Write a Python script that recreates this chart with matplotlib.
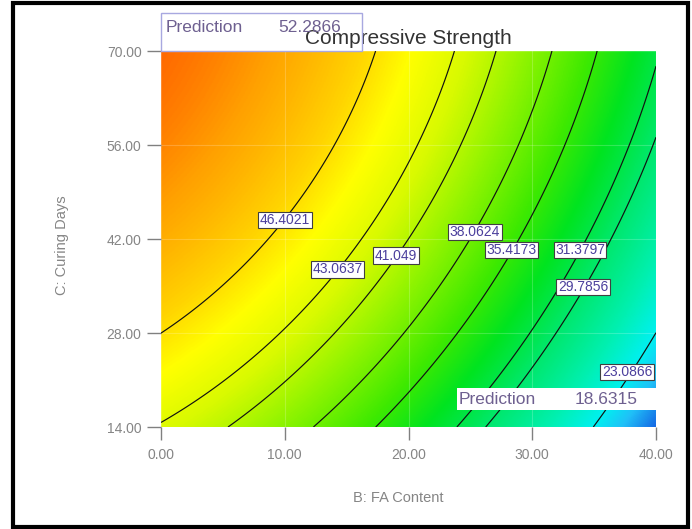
import numpy as np
import matplotlib
matplotlib.use("Agg")
import matplotlib.pyplot as plt
from matplotlib.colors import LinearSegmentedColormap, Normalize
from matplotlib.patches import Rectangle

plt.rcParams["font.family"] = ["Liberation Sans", "DejaVu Sans"]

# Factor ranges
fa_content_range = [0.0, 40.0]      # B: FA Content
curing_days_range = [14.0, 70.0]    # C: Curing Days

# Fitted quadratic response model for compressive strength
model_terms = ["Intercept", "B", "C", "BC", "B^2", "C^2"]
model_coefs = [38.56, -0.3175, 0.3362, 0.001607, -0.00777, -0.0020]

# Contour levels and where their labels sit (B, C)
contour_levels = [23.0866, 29.7856, 31.3797, 35.4173, 38.0624, 41.049, 43.0637, 46.4021]
label_positions = [(37.66, 22.2), (34.1, 34.85), (33.86, 40.36), (28.32, 40.36),
                   (25.37, 43.04), (18.99, 39.54), (14.30, 37.46), (10.02, 44.83)]

x_ticks = [0, 10, 20, 30, 40]
x_tick_labels = ["0.00", "10.00", "20.00", "30.00", "40.00"]
y_ticks = [14, 28, 42, 56, 70]
y_tick_labels = ["14.00", "28.00", "42.00", "56.00", "70.00"]

prediction_high = 52.2866
prediction_low = 18.6315

# Colour scale (response value -> colour)
color_values = [18.6, 21.0, 23.0, 26.0, 29.5, 33.0, 36.0, 39.5, 42.5, 45.0, 47.0, 50.0, 52.3]
color_hex = ["#1468e4", "#20c0f8", "#00f0f0", "#00f0b0", "#00e870", "#00e420", "#40ea00",
             "#90f400", "#d8fa00", "#ffff00", "#ffd400", "#ffa000", "#ff6a00"]

W, H = 692, 529


def px(x, y):
    """Pixel position (from top-left) to figure fraction."""
    return x / W, 1 - y / H


def response(b, c):
    k = model_coefs
    return k[0] + k[1] * b + k[2] * c + k[3] * b * c + k[4] * b ** 2 + k[5] * c ** 2


b = np.linspace(*fa_content_range, 400)
c = np.linspace(*curing_days_range, 400)
Bg, Cg = np.meshgrid(b, c)
Z = response(Bg, Cg)

vmin, vmax = color_values[0], color_values[-1]
stops = [((v - vmin) / (vmax - vmin), col) for v, col in zip(color_values, color_hex)]
cmap = LinearSegmentedColormap.from_list("strength", stops)
norm = Normalize(vmin=vmin, vmax=vmax)

fig = plt.figure(figsize=(W / 100, H / 100), dpi=100)
x0, y0 = px(161, 427)
x1, y1 = px(656, 51)
ax = fig.add_axes([x0, y0, x1 - x0, y1 - y0])

ax.imshow(Z, extent=[*fa_content_range, *curing_days_range], origin="lower",
          aspect="auto", cmap=cmap, norm=norm, interpolation="bilinear", zorder=0)
ax.grid(True, color="white", alpha=0.2, lw=0.8)
ax.contour(Bg, Cg, Z, levels=contour_levels, colors="#111111", linewidths=0.85, zorder=2)

for lev, (lb, lc) in zip(contour_levels, label_positions):
    ax.text(lb, lc, f"{lev:g}", ha="center", va="center", fontsize=10, color="#4b3f9c",
            zorder=4,
            bbox=dict(boxstyle="square,pad=0.1", facecolor="white", edgecolor="#404040", lw=0.8))

ax.set_xlim(*fa_content_range)
ax.set_ylim(*curing_days_range)
ax.set_xticks(x_ticks, x_tick_labels)
ax.set_yticks(y_ticks, y_tick_labels)
for s in ax.spines.values():
    s.set_visible(False)
ax.tick_params(axis="y", length=10, width=1, color="#808080", pad=4, labelsize=10,
               labelcolor="#858585")
ax.tick_params(axis="x", length=9, width=1, color="#808080", pad=6, labelsize=10,
               labelcolor="#858585")

# Axis labels and title
fig.text(*px(62, 245), "C: Curing Days", rotation=90, ha="center", va="center",
         fontsize=10.5, color="#858585")
fig.text(*px(398, 498), "B: FA Content", ha="center", va="center",
         fontsize=10.5, color="#858585")
fig.text(*px(408, 38), "Compressive Strength", ha="center", va="center",
         fontsize=15, color="#333333")

# Prediction flags
bx, by = px(161, 51)
fig.add_artist(Rectangle((bx, by), 201 / W, 38 / H, transform=fig.transFigure,
                         fill=False, edgecolor="#a8a8e0", lw=1, zorder=5))
fig.text(*px(166, 27), "Prediction", ha="left", va="center", fontsize=12.5,
         color="#6e6090", zorder=6)
fig.text(*px(278, 27), f"{prediction_high:.4f}", ha="left", va="center", fontsize=12.5,
         color="#6e6090", zorder=6)

lx, ly = px(457, 410)
fig.add_artist(Rectangle((lx, ly), 199 / W, 22 / H, transform=fig.transFigure,
                         facecolor="white", edgecolor="none", zorder=5))
fig.text(*px(459, 399), "Prediction", ha="left", va="center", fontsize=12.5,
         color="#6e6090", zorder=6)
fig.text(*px(575, 399), f"{prediction_low:.4f}", ha="left", va="center", fontsize=12.5,
         color="#6e6090", zorder=6)

# Outer frame
fx, fy = px(13, 527)
fig.add_artist(Rectangle((fx, fy), 675 / W, 524 / H, transform=fig.transFigure,
                         fill=False, edgecolor="black", lw=3, zorder=10))

fig.savefig("out.png", dpi=100)
